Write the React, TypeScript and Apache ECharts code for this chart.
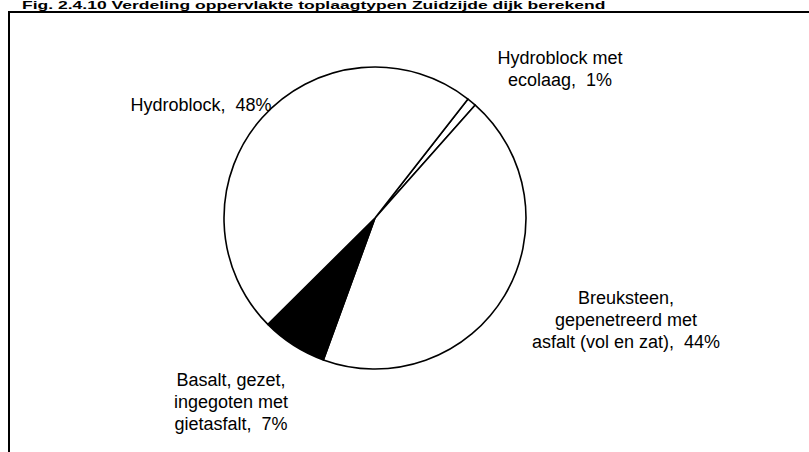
import React, { useEffect, useRef } from "react";
import * as echarts from "echarts";

// Data (clockwise order starting at the thin slice, upper right)
const categories = [
  "Hydroblock met ecolaag",
  "Breuksteen, gepenetreerd met asfalt (vol en zat)",
  "Basalt, gezet, ingegoten met gietasfalt",
  "Hydroblock",
];
const labelLines = [
  ["Hydroblock met", "ecolaag"],
  ["Breuksteen,", "gepenetreerd met", "asfalt (vol en zat)"],
  ["Basalt, gezet,", "ingegoten met", "gietasfalt"],
  ["Hydroblock"],
];
const shares = [1, 44, 7, 48];
const titleText = "Fig. 2.4.10 Verdeling oppervlakte toplaagtypen Zuidzijde dijk berekend";

// Styling / layout (not data)
const sliceColors = ["#ffffff", "#ffffff", "#000000", "#ffffff"];
const labelAnchors: [number, number][] = [
  [560, 69],
  [626, 320],
  [231, 402],
  [201, 105],
];

export default function App() {
  const ref = useRef<HTMLDivElement>(null);
  useEffect(() => {
    if (!ref.current) return;
    const chart = echarts.init(ref.current, null, { renderer: "svg" });
    const font = "Liberation Sans, Arial, sans-serif";
    chart.setOption({
      animation: false,
      backgroundColor: "#ffffff",
      graphic: [
        {
          type: "rect",
          shape: { x: 9, y: 12, width: 830, height: 470 },
          style: { fill: "none", stroke: "#000", lineWidth: 2 },
          silent: true,
        },
        {
          type: "text",
          x: 22,
          y: 0,
          scaleX: 1.75,
          style: {
            text: titleText,
            fontFamily: font,
            fontSize: 10,
            fontWeight: "bold",
            fill: "#000",
            align: "left",
            verticalAlign: "top",
          },
          silent: true,
        },
      ],
      series: [
        {
          type: "pie",
          center: [375, 218],
          radius: 151,
          startAngle: 52,
          clockwise: true,
          avoidLabelOverlap: false,
          data: categories.map((name, i) => ({
            name,
            value: shares[i],
            itemStyle: { color: sliceColors[i] },
          })),
          itemStyle: { borderColor: "#000", borderWidth: 1.6 },
          label: {
            show: true,
            position: "outside",
            fontFamily: font,
            fontSize: 18,
            lineHeight: 22,
            color: "#000",
            align: "center",
            formatter: (p: any) => {
              const lines = labelLines[p.dataIndex].slice();
              lines[lines.length - 1] = lines[lines.length - 1] + ",  " + p.value + "%";
              return lines.join("\n");
            },
          },
          labelLine: { show: false },
          labelLayout: (p: any) => ({
            x: labelAnchors[p.dataIndex][0],
            y: labelAnchors[p.dataIndex][1],
            align: "center",
            verticalAlign: "middle",
          }),
          emphasis: { disabled: true },
        },
      ],
    });
    return () => chart.dispose();
  }, []);
  return (
    <div
      ref={ref}
      style={{ position: "absolute", left: 0, top: 0, width: 809, height: 452 }}
    />
  );
}
